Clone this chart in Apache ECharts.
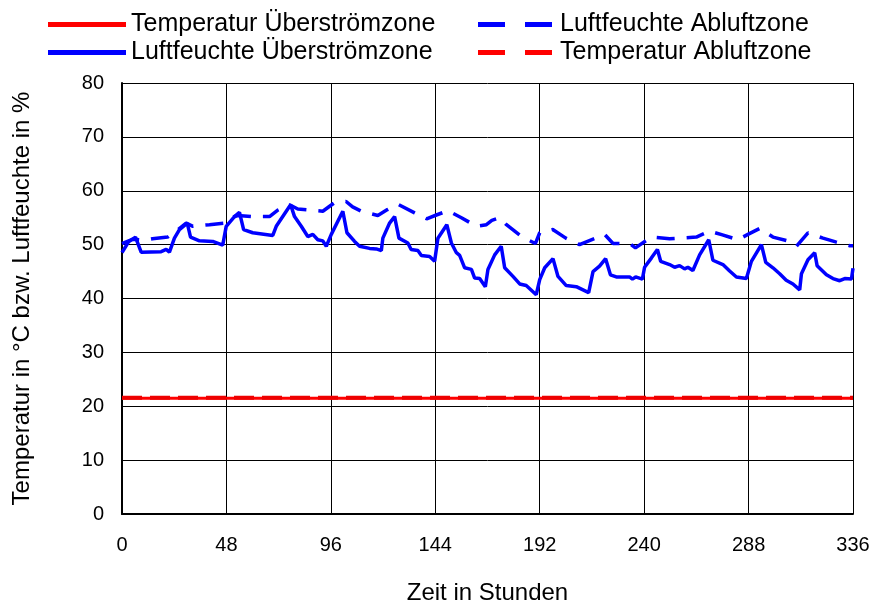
<!DOCTYPE html>
<html>
<head>
<meta charset="utf-8">
<script src="https://cdn.jsdelivr.net/npm/echarts@6/dist/echarts.min.js"></script>
<style>
html,body{margin:0;padding:0;background:#fff;}
#c{width:872px;height:606px;}
</style>
</head>
<body>
<div id="c"></div>
<script>
// x tick labels (hours)
var xTicks = [0, 48, 96, 144, 192, 240, 288, 336];

// Luftfeuchte Überströmzone
var uebHours = [0,3,6.2,8.8,18,20.3,21.8,24.1,26.4,30,31.5,35.6,41.7,46.3,47.9,51.7,54,55.9,60.1,69.3,70.9,75.5,77.5,79.3,82.4,85.4,87.7,90,92.3,93.9,96.2,101.5,103.4,106.9,109.2,113.8,116.9,119.2,119.9,123,125.3,127.3,131.4,132.9,136,137.6,141.4,143.7,145.2,149.3,151.4,153.7,155.2,157.5,160.6,162.1,164.4,167,168.2,171.3,174.3,175.9,179.7,182.8,185.8,190.4,192,194.3,198.1,200.4,204.2,208.8,214.5,216.5,219.5,222.3,224.5,227.2,233.3,234.6,236.1,239.2,240.2,243.3,246.1,247.6,251.7,254,256.3,258.6,260.1,262.4,265.5,269.7,271.6,276.2,279.3,282.4,287,289.3,293.9,295.9,299.2,302.3,305.3,308.4,311.5,312.3,315.3,318.4,319.5,323.8,326.8,329.9,332.2,335.3,336];
var uebHum = [48.5,50.5,51.4,48.6,48.7,49.1,48.6,51.2,52.8,54,51.4,50.7,50.6,49.9,53.4,55.2,56,52.8,52.2,51.7,53.4,56.2,57.4,55.2,53.4,51.5,51.9,50.9,50.7,49.7,51.9,56.2,52.2,50.6,49.7,49.3,49.2,48.9,51.2,54,55.2,51.2,50.3,49.1,48.9,48,47.8,46.9,51.2,53.7,50.3,48.5,48,45.7,45.4,43.8,43.7,42.2,45.4,48.1,49.7,45.7,44.1,42.7,42.4,40.7,43.5,45.7,47.4,44.1,42.4,42.2,41.1,45,46,47.4,44.4,44,44,43.6,44,43.6,45.8,47.5,49.1,46.9,46.3,45.8,46.1,45.5,45.8,45.2,48.1,50.9,47.1,46.3,45.1,44,43.7,46.9,50,46.7,45.7,44.6,43.4,42.7,41.6,44.6,47.2,48.5,46.1,44.4,43.7,43.3,43.7,43.6,45.6];

// Luftfeuchte Abluftzone
var ablHours = [0,5,10,14,21,24.9,29.5,32.6,40.2,47,49.4,53.2,59.4,67.8,71.6,77,80.8,92.3,97.7,103,106,110,117.6,122,126.8,134.5,140,144.5,149.8,156,162.9,167.5,170,173.6,176.7,184,190,192,198,204,210.3,215.7,221.8,225.7,233.3,236,243.3,251.7,264,270.1,276,283.1,287.7,293.1,299.2,306.9,310,315.3,322.2,328,334.5,336];
var ablHum = [50.2,51,50.8,51.1,51.4,52.5,54,53.4,53.7,54,54.9,55.4,55.2,55.2,56.4,57.4,56.6,56.2,57.8,58,57,56.2,55.4,56.5,57.5,55.9,54.8,55.5,56.3,55,53.4,53.7,54.5,55,53.7,51.4,50.2,52.2,52.8,51.2,50,50.9,51.9,50.2,50.2,49.4,51.4,51.1,51.4,52.5,51.8,50.9,51.9,53,51.4,50.6,49.7,52.2,51.2,50.5,49.8,49.8];

// Temperaturen
var tempHours = [0, 336];
var tempUeb = [21.5, 21.5];
var tempAbl = [21.6, 21.6];

function pairs(xs, ys){ return xs.map(function(x,i){ return [x, ys[i]]; }); }

var FONT = 'Liberation Sans, Arial, sans-serif';
var SOLID_ICON = 'path://M0,0h78v5h-78z';
var DASH_ICON = 'path://M0,0h27v5h-27z M47,0h27v5h-27z';
var chart = echarts.init(document.getElementById('c'), null, {renderer:'canvas'});
chart.setOption({
  backgroundColor: '#fff',
  animation: false,
  grid: {left: 122, right: 19, top: 83, bottom: 92, containLabel: false, outerBoundsMode: 'none'},
  legend: [
    {
      left: 48, top: 12, orient: 'vertical', padding: 0,
      itemWidth: 78, itemHeight: 5, itemGap: 3,
      textStyle: {fontFamily: FONT, fontSize: 25, color: '#000', padding: [0,0,0,0]},
      data: [
        {name: 'Temperatur Überströmzone', icon: SOLID_ICON},
        {name: 'Luftfeuchte Überströmzone', icon: SOLID_ICON}
      ]
    },
    {
      left: 478, top: 12, orient: 'vertical', padding: 0,
      itemWidth: 74, itemHeight: 5, itemGap: 3,
      textStyle: {fontFamily: FONT, fontSize: 25, color: '#000', padding: [0,0,0,3]},
      data: [
        {name: 'Luftfeuchte Abluftzone', icon: DASH_ICON},
        {name: 'Temperatur Abluftzone', icon: DASH_ICON}
      ]
    }
  ],
  xAxis: {
    type: 'value', min: 0, max: 336, interval: 48,
    axisLine: {show: true, onZero: false, lineStyle: {color: '#000', width: 2}},
    axisTick: {show: false},
    splitLine: {show: true, lineStyle: {color: '#000', width: 1}},
    axisLabel: {color: '#000', fontFamily: FONT, fontSize: 20, margin: 21,
      formatter: function(v){ return xTicks.indexOf(v) >= 0 ? String(v) : ''; }},
    name: 'Zeit in Stunden', nameLocation: 'middle', nameGap: 67,
    nameTextStyle: {color: '#000', fontFamily: FONT, fontSize: 24}
  },
  yAxis: {
    type: 'value', min: 0, max: 80, interval: 10,
    axisLine: {show: true, lineStyle: {color: '#000', width: 2}},
    axisTick: {show: false},
    splitLine: {show: true, lineStyle: {color: '#000', width: 1}},
    axisLabel: {color: '#000', fontFamily: FONT, fontSize: 20, margin: 18},
    name: 'Temperatur in °C bzw. Luftfeuchte in %', nameLocation: 'middle', nameGap: 88,
    nameTextStyle: {color: '#000', fontFamily: FONT, fontSize: 24}
  },
  series: [
    {
      name: 'Temperatur Überströmzone', type: 'line', symbol: 'none',
      data: pairs(tempHours, tempUeb), color: '#ff0000',
      lineStyle: {color: '#ff0000', width: 3}, z: 3
    },
    {
      name: 'Luftfeuchte Überströmzone', type: 'line', symbol: 'none',
      data: pairs(uebHours, uebHum), color: '#0000ff',
      lineStyle: {color: '#0000ff', width: 3.5}, z: 3
    },
    {
      name: 'Luftfeuchte Abluftzone', type: 'line', symbol: 'none',
      data: pairs(ablHours, ablHum), color: '#0000ff',
      lineStyle: {color: '#0000ff', width: 3.5, type: [18, 12]}, z: 3
    },
    {
      name: 'Temperatur Abluftzone', type: 'line', symbol: 'none',
      data: pairs(tempHours, tempAbl), color: '#ff0000',
      lineStyle: {color: '#ee0000', width: 4, type: [20, 8]}, z: 4
    }
  ]
});
</script>
</body>
</html>
